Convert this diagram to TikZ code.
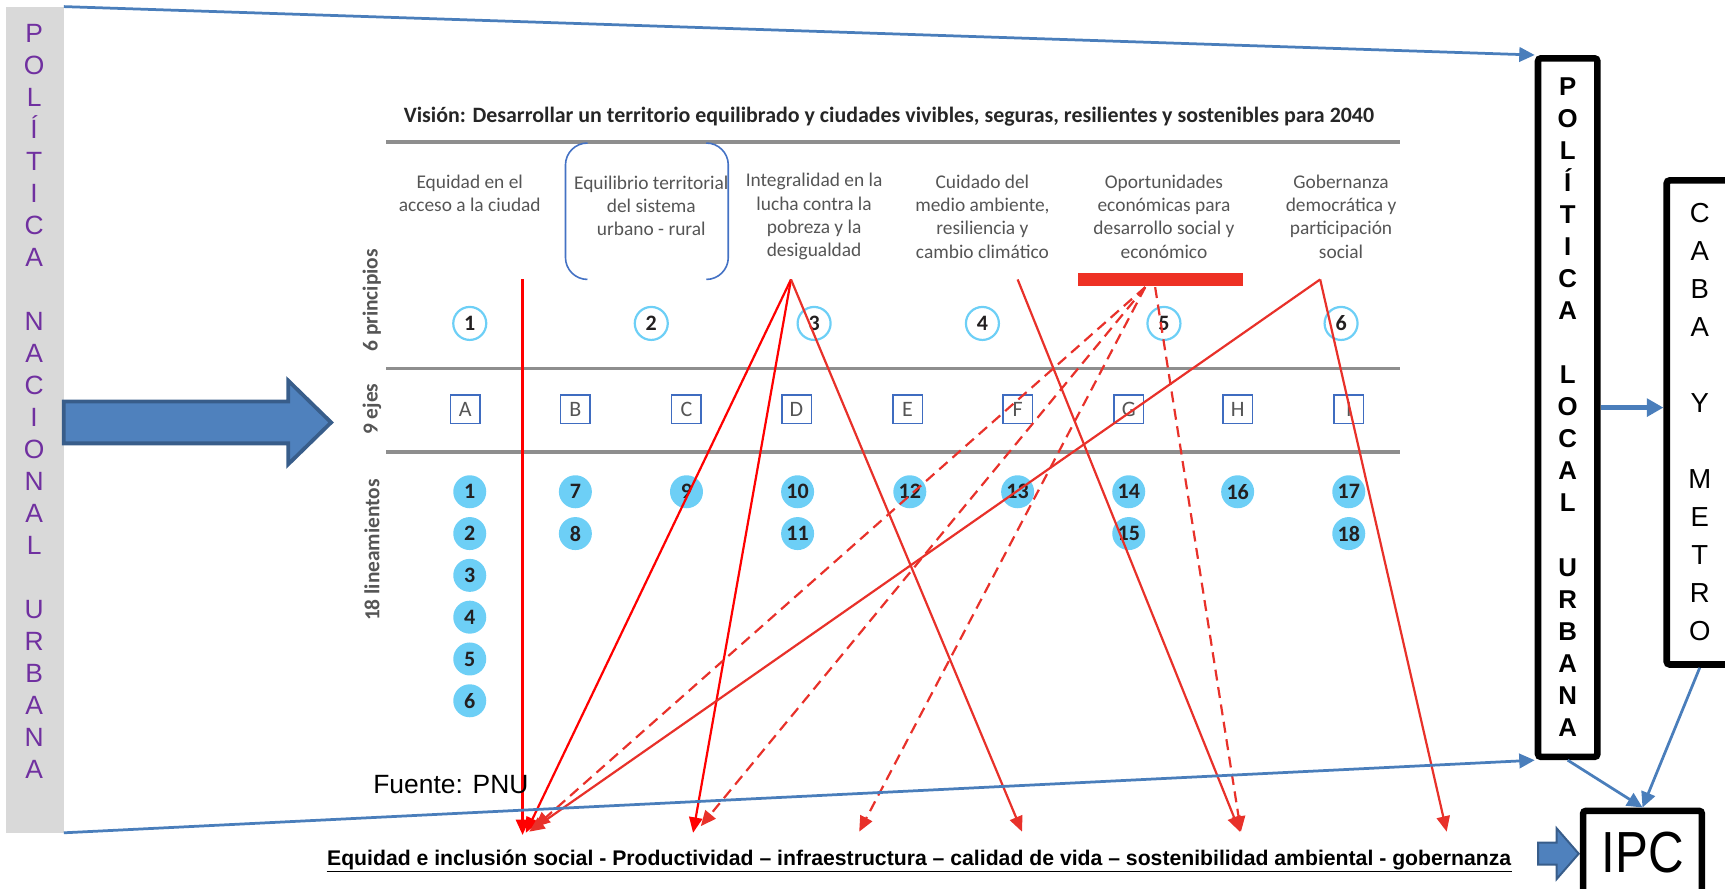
\documentclass[tikz,border=0pt]{standalone}
\usepackage{graphicx}
\usepackage{fontspec}
\setmainfont{Liberation Sans}
\newfontfamily\calf{Carlito}
\usetikzlibrary{arrows.meta}
\definecolor{graybar}{HTML}{D9D9D9}
\definecolor{plpurple}{HTML}{7030A0}
\definecolor{conblue}{HTML}{4A7EBB}
\definecolor{blkfill}{HTML}{4F81BD}
\definecolor{blkdraw}{HTML}{385D8A}
\definecolor{redA}{HTML}{FF0000}
\definecolor{redB}{HTML}{E8312A}
\definecolor{barred}{HTML}{EE3124}
\definecolor{cline}{HTML}{8E8E8E}
\definecolor{ctext}{HTML}{555555}
\definecolor{cdark}{HTML}{231F20}
\definecolor{ringblue}{HTML}{6DCFF6}
\definecolor{boxblue}{HTML}{3F6CC0}
\definecolor{brblue}{HTML}{4472C4}
\begin{document}
\begin{tikzpicture}[x=0.55pt, y=-0.55pt,
 purpletxt/.style={text=plpurple, font=\fontsize{13.2}{15}\selectfont, inner sep=0pt, anchor=base},
 localtxt/.style={font=\bfseries\fontsize{12.9}{15}\selectfont, inner sep=0pt, anchor=base},
 cabatxt/.style={font=\fontsize{13.75}{16}\selectfont, inner sep=0pt, anchor=base},
 bigbox/.style={draw=black, line width=3.3pt, rounded corners=1.5pt, inner sep=0pt},
 bluecon/.style={draw=conblue, line width=1.375pt, -{Triangle[length=7.7pt,width=7.2pt]}},
 bluethick/.style={draw=conblue, line width=2.2pt, -{Triangle[length=8.3pt,width=8.8pt]}},
 blockarrow/.style={fill=blkfill, draw=blkdraw, line join=miter},
 chartline/.style={draw=cline, line width=1.9pt},
 hdr/.style={font=\calf\fontsize{9.7}{11.6}\selectfont, text=ctext, align=center, inner sep=0pt},
 sidelab/.style={font=\calf\bfseries\fontsize{10.7}{12}\selectfont, text=ctext, rotate=90, inner sep=0pt},
 ring/.style={circle, draw=ringblue, line width=1.1pt, minimum size=16.5pt, inner sep=0pt, font=\calf\bfseries\fontsize{11}{11}\selectfont, text=cdark},
 axbox/.style={rectangle, draw=boxblue, line width=0.8pt, minimum width=14.8pt, minimum height=14.3pt, inner sep=0pt, font=\calf\fontsize{11}{11}\selectfont, text=ctext},
 ldot/.style={circle, fill=ringblue, minimum size=16.5pt, inner sep=0pt, font=\calf\bfseries\fontsize{11}{11}\selectfont, text=cdark},
 redsolid/.style={draw=redB, line width=1.1pt, -{Triangle[length=7.7pt,width=6.6pt]}},
 redbright/.style={redsolid, draw=redA},
 reddash/.style={redsolid, dash pattern=on 5.5pt off 3.3pt},
]
\useasboundingbox (0,0) rectangle (1568,808);

% left grey bar
\node[fill=graybar, minimum width=29.15pt, minimum height=413.05pt, inner sep=0pt, outer sep=0pt] (pnubar) at (31.5,381.5) {};
\foreach \i/\ch in {0/P,1/O,2/L,3/Í,4/T,5/I,6/C,7/A,9/N,10/A,11/C,12/I,13/O,14/N,15/A,16/L,18/U,19/R,20/B,21/A,22/N,23/A}
  \node[purpletxt] (pl\i) at (31,{38.5+29.1*\i}) {\ch};

% title and rules
\node[inner sep=0pt, text=black!85] (title) at (808,106) {\resizebox{485pt}{!}{\calf\bfseries Visión: Desarrollar un territorio equilibrado y ciudades vivibles, seguras, resilientes y sostenibles para 2040}};
\draw[chartline] (351,129) -- (1273,129);
\draw[chartline] (351,335) -- (1273,335);
\draw[chartline] (351,411) -- (1273,411);

% headers
\node[hdr] (h1) at (427,176) {Equidad en el\\acceso a la ciudad};
\node[hdr] (h2) at (592,187) {Equilibrio territorial\\del sistema\\urbano - rural};
\node[hdr] (h3) at (740,197) {Integralidad en la\\lucha contra la\\pobreza y la\\desigualdad};
\node[hdr] (h4) at (893,197) {Cuidado del\\medio ambiente,\\resiliencia y\\cambio climático};
\node[hdr] (h5) at (1058,197) {Oportunidades\\económicas para\\desarrollo social y\\económico};
\node[hdr] (h6) at (1219,197) {Gobernanza\\democrática y\\participación\\social};

% bracket round header 2
\draw[brblue, line width=0.8pt, rounded corners=11pt] (534,130) -- (514,130) -- (514,254) -- (534,254);
\draw[brblue, line width=0.8pt, rounded corners=11pt] (642,130) -- (662,130) -- (662,254) -- (642,254);

% side labels
\node[sidelab] (lab6) at (338,273) {6 principios};
\node[sidelab] (lab9) at (338,372) {9 ejes};
\node[sidelab] (lab18) at (338,500) {18 lineamientos};

% principles
\foreach \n/\x in {1/427,2/592,3/740,4/893,5/1058,6/1219}
  \node[ring] (pr\n) at (\x,294) {\n};

% axes
\foreach \n/\x in {A/423,B/523,C/624,D/724,E/825,F/925,G/1026,H/1125,I/1226}
  \node[axbox] (ax\n) at (\x,372) {\n};

% lineamientos
\foreach \n/\x/\y in {1/427/447,2/427/485,3/427/523,4/427/561,5/427/599,6/427/637,7/523/447,8/523/485,9/624/447,10/725/447,11/725/485,12/827/447,13/925/447,14/1026/447,15/1026/485,16/1125/447,17/1226/447,18/1226/485}
  \node[ldot] (li\n) at (\x,\y) {\n};

% red bar
\node[fill=barred, minimum width=82.5pt, minimum height=6.6pt, inner sep=0pt] (redbar) at (1055,254) {};

% red connectors
\coordinate (s1) at (475,254);
\coordinate (s3) at (719,254);
\coordinate (s4) at (925,254);
\coordinate (s6) at (1200,254);
\coordinate (d1) at (1041,261);
\coordinate (d2) at (1050,261);
\coordinate (ta) at (475,759);
\coordinate (tb) at (478,757);
\coordinate (tc) at (630,757);
\coordinate (td) at (929,756);
\coordinate (te) at (1127,756);
\coordinate (tf) at (481,756);
\coordinate (tg) at (1315,756);
\coordinate (th) at (486,752);
\coordinate (ti) at (637,751);
\coordinate (tj) at (781,756);
\coordinate (tk) at (1128,756);

\draw[redbright, line width=1.3pt] (s1) -- (ta);
\draw[redbright] (s3) -- (tb);
\draw[redbright] (s3) -- (tc);
\draw[redsolid] (s3) -- (td);
\draw[redsolid] (s4) -- (te);
\draw[redsolid] (s6) -- (tf);
\draw[redsolid] (s6) -- (tg);
\draw[reddash] (d1) -- (th);
\draw[reddash] (d1) -- (ti);
\draw[reddash] (d1) -- (tj);
\draw[reddash] (d2) -- (tk);

% source and goals text
\node[anchor=base west, inner sep=0pt, font=\fontsize{13.2}{15}\selectfont] (fuente) at (339,721) {Fuente: PNU};
\node[anchor=base west, inner sep=0pt, font=\bfseries\fontsize{10.6}{12}\selectfont] (goals) at (297,787) {Equidad e inclusión social - Productividad – infraestructura – calidad de vida – sostenibilidad ambiental - gobernanza};
\draw[black, line width=0.7pt] (goals.base west) ++(0,5) coordinate (ul1) (goals.base east) ++(0,5) coordinate (ul2);
\draw[black, line width=0.7pt] (ul1) -- (ul2);

% block arrows
\draw[blockarrow, line width=1.9pt] (58,365) -- (262,365) -- (262,346) -- (301,384) -- (262,422) -- (262,403) -- (58,403) -- cycle;
\draw[blockarrow, line width=1pt] (1398,766) -- (1415,766) -- (1415,753) -- (1435,776) -- (1415,799) -- (1415,786) -- (1398,786) -- cycle;

% right boxes
\node[bigbox, minimum width=29.7pt, minimum height=349.25pt] (plu) at (1425,370.5) {};
\foreach \i/\ch in {0/P,1/O,2/L,3/Í,4/T,5/I,6/C,7/A,9/L,10/O,11/C,12/A,13/L,15/U,16/R,17/B,18/A,19/N,20/A}
  \node[localtxt] (lo\i) at (1425,{86.4+29.15*\i}) {\ch};

\node[bigbox, minimum width=33pt, minimum height=242pt] (caba) at (1545,384) {};
\foreach \i/\ch in {0/C,1/A,2/B,3/A,5/Y,7/M,8/E,9/T,10/R,11/O}
  \node[cabatxt] (ca\i) at (1545,{202+34.6*\i}) {\ch};

\node[bigbox, minimum width=59.4pt, minimum height=41.8pt, font=\fontsize{29}{30}\selectfont] (ipc) at (1493,775) {\scalebox{0.85}[1]{IPC}};

% blue connectors
\draw[bluecon] (pnubar.north east) -- (plu.north west);
\draw[bluecon] (pnubar.south east) -- (plu.south west);
\draw[bluethick] (plu.east) -- (plu.east -| caba.west);
\draw[bluecon] (plu.south) -- (ipc.north);
\draw[bluecon] (caba.south) -- (ipc.north);
\end{tikzpicture}
\end{document}
